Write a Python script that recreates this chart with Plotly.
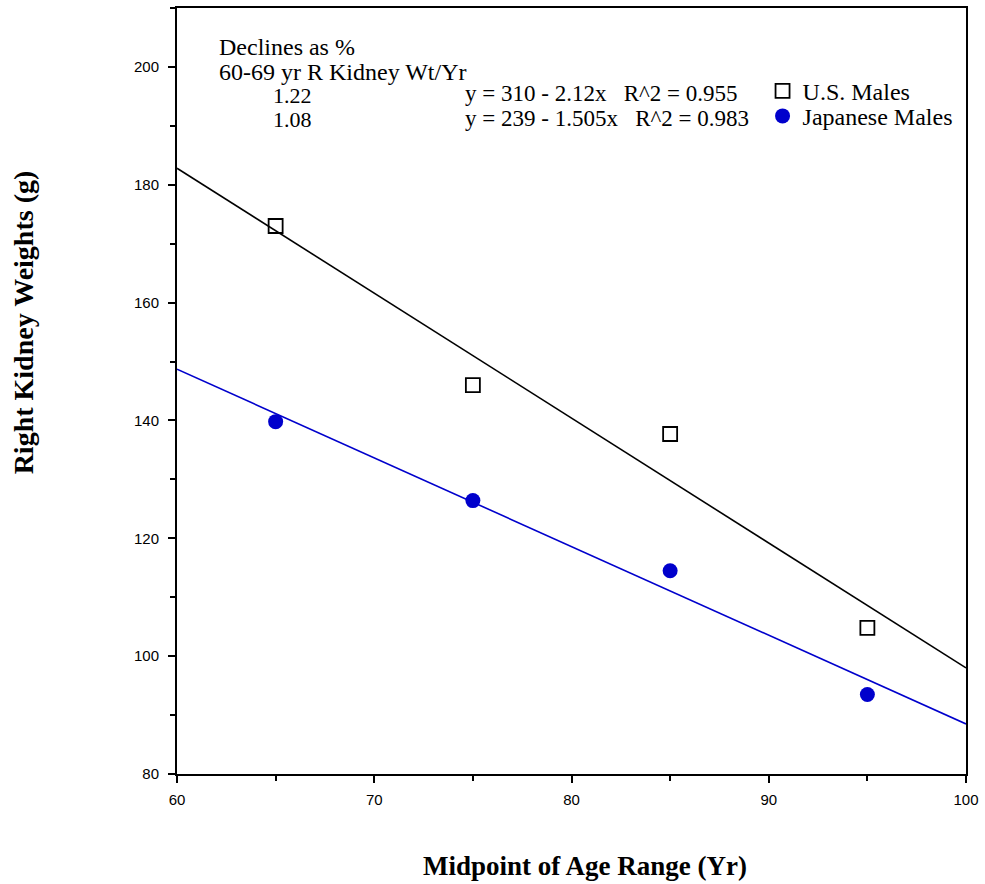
import numpy as np
import plotly.graph_objects as go

# Data
ages = [65, 75, 85, 95]
us_males = [173, 146, 137.7, 104.8]
jp_males = [139.8, 126.4, 114.5, 93.5]

# Regression coefficients (intercept, slope) as printed on chart
us_fit = (310, -2.12)
jp_fit = (239, -1.505)
fit_x = [60, 100]

x_ticks = [60, 70, 80, 90, 100]
y_ticks = [80, 100, 120, 140, 160, 180, 200]

W, H = 985, 884
L, R, T, B = 177, 13, 6, 110

def px_to_paper_x(px):
    return (px - L) / (W - L - R)

def px_to_paper_y(py):
    return (H - B - py) / (H - T - B)

serif = "Liberation Serif, Times New Roman, serif"
sans = "Liberation Sans, Arial, sans-serif"

fig = go.Figure()

fx = np.array(fit_x, dtype=float)
fig.add_trace(go.Scatter(x=fx, y=us_fit[0] + us_fit[1] * fx, mode="lines",
                         line=dict(color="black", width=1.6), showlegend=False,
                         hoverinfo="skip"))
fig.add_trace(go.Scatter(x=fx, y=jp_fit[0] + jp_fit[1] * fx, mode="lines",
                         line=dict(color="#0000cc", width=1.6), showlegend=False,
                         hoverinfo="skip"))

fig.add_trace(go.Scatter(x=ages, y=us_males, mode="markers", name="U.S. Males",
                         legend="legend",
                         marker=dict(symbol="square-open", size=14, color="black",
                                     line=dict(width=1.8, color="black"))))
fig.add_trace(go.Scatter(x=ages, y=jp_males, mode="markers", name="Japanese Males",
                         legend="legend2",
                         marker=dict(symbol="circle", size=15, color="#0000cc")))

annotations = []
texts = [
    ("Declines as %", 217, 45, 24),
    ("60-69 yr R Kidney Wt/Yr", 217, 70, 24),
    ("1.22", 272, 94, 22),
    ("1.08", 272, 118, 22),
    ("y = 310 - 2.12x   R^2 = 0.955", 465, 92, 23),
    ("y = 239 - 1.505x   R^2 = 0.983", 465, 117, 23),
]
for t, x, y, fs in texts:
    annotations.append(dict(text=t, x=px_to_paper_x(x), y=px_to_paper_y(y),
                            xref="paper", yref="paper", xanchor="left",
                            yanchor="middle", showarrow=False,
                            font=dict(family=serif, size=fs, color="black")))

annotations.append(dict(text="<b>Midpoint of Age Range (Yr)</b>",
                        x=px_to_paper_x(588), y=px_to_paper_y(866),
                        xref="paper", yref="paper", xanchor="center", yanchor="middle",
                        showarrow=False, font=dict(family=serif, size=27, color="black")))
annotations.append(dict(text="<b>Right Kidney Weights (g)</b>",
                        x=px_to_paper_x(22), y=px_to_paper_y(321),
                        xref="paper", yref="paper", xanchor="center", yanchor="middle",
                        textangle=-90, showarrow=False,
                        font=dict(family=serif, size=28, color="black")))

leg_common = dict(xanchor="left", yanchor="top",
                  font=dict(family=serif, size=24, color="black"),
                  bgcolor="rgba(0,0,0,0)")

fig.update_layout(
    width=W, height=H,
    margin=dict(l=L, r=R, t=T, b=B),
    paper_bgcolor="white", plot_bgcolor="white",
    annotations=annotations,
    showlegend=True,
    legend=dict(x=px_to_paper_x(767), y=px_to_paper_y(67), **leg_common),
    legend2=dict(x=px_to_paper_x(767), y=px_to_paper_y(92), **leg_common),
    xaxis=dict(range=[60, 100], tickvals=x_ticks, ticktext=[str(v) for v in x_ticks],
               showgrid=False, zeroline=False, showline=True, linecolor="black",
               linewidth=2, mirror=True, ticks="outside", ticklen=7, tickwidth=1.5,
               tickcolor="black", ticklabelstandoff=4, ticklabeloverflow="allow",
               minor=dict(dtick=5, ticks="outside", ticklen=5, tickcolor="black", tickwidth=1.5),
               tickfont=dict(family=sans, size=15, color="black")),
    yaxis=dict(range=[80, 210], tickvals=y_ticks, ticktext=[str(v) for v in y_ticks],
               showgrid=False, zeroline=False, showline=True, linecolor="black",
               linewidth=2, mirror=True, ticks="outside", ticklen=7, tickwidth=1.5,
               tickcolor="black", ticklabelstandoff=6,
               minor=dict(dtick=10, ticks="outside", ticklen=5, tickcolor="black", tickwidth=1.5),
               tickfont=dict(family=sans, size=15, color="black")),
)

fig.write_html("out.html")
